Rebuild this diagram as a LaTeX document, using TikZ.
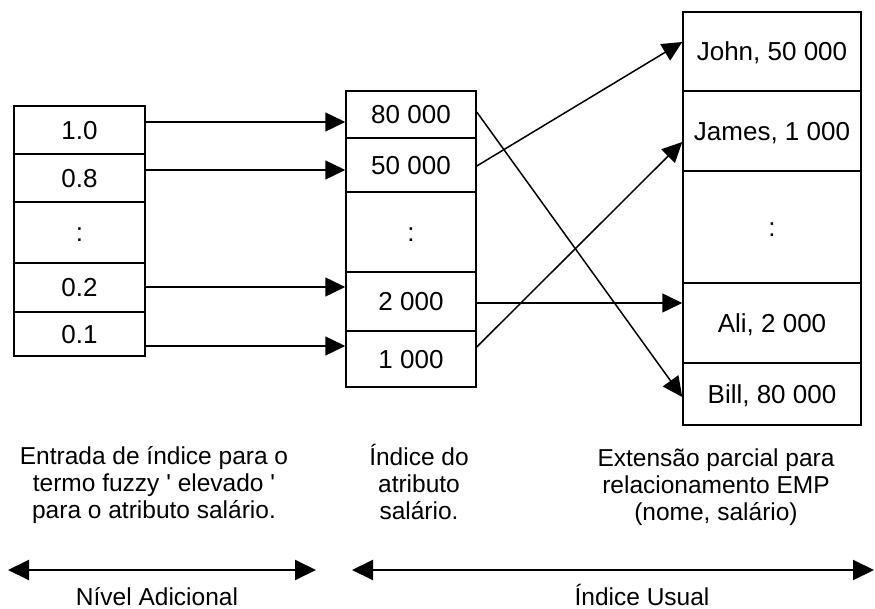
\documentclass[tikz,border=0pt]{standalone}
\usepackage{fontspec}
\setmainfont{Liberation Sans}
\usetikzlibrary{arrows.meta}

\begin{document}
\begin{tikzpicture}[x=1pt,y=-1pt,
  cell/.style={draw,line width=1.5pt,inner sep=0pt,text height=18.6pt,text depth=0pt,
    font=\fontsize{26}{30}\selectfont},
  legend/.style={align=center,inner sep=0pt,font=\fontsize{24.5}{27}\selectfont},
  link/.style={line width=1.5pt,-{Triangle[length=20pt,width=19pt]}},
  span/.style={line width=2pt,{Triangle[length=21pt,width=20pt]}-{Triangle[length=21pt,width=20pt]}}]
 \useasboundingbox (0,0) rectangle (875,609);
%
 \node[cell,minimum width=131pt,minimum height=48pt] (l1) at (79.5,130) {1.0};
 \node[cell,minimum width=131pt,minimum height=48pt] (l2) at (79.5,178) {0.8};
 \node[cell,minimum width=131pt,minimum height=61pt] (l3) at (79.5,232.5) {:};
 \node[cell,minimum width=131pt,minimum height=49pt] (l4) at (79.5,287.5) {0.2};
 \node[cell,minimum width=131pt,minimum height=44pt] (l5) at (79.5,334) {0.1};
%
 \node[cell,minimum width=130pt,minimum height=47pt] (m1) at (411,114.5) {80 000};
 \node[cell,minimum width=130pt,minimum height=54pt] (m2) at (411,165) {50 000};
 \node[cell,minimum width=130pt,minimum height=80pt] (m3) at (411,232) {:};
 \node[cell,minimum width=130pt,minimum height=59pt] (m4) at (411,301.5) {2 000};
 \node[cell,minimum width=130pt,minimum height=56pt] (m5) at (411,359) {1 000};
%
 \node[cell,minimum width=178pt,minimum height=79pt] (r1) at (772,51.5) {John, 50 000};
 \node[cell,minimum width=178pt,minimum height=80pt] (r2) at (772,131) {James, 1 000};
 \node[cell,minimum width=178pt,minimum height=112pt] (r3) at (772,227) {:};
 \node[cell,minimum width=178pt,minimum height=80pt] (r4) at (772,323) {Ali, 2 000};
 \node[cell,minimum width=178pt,minimum height=62pt] (r5) at (772,394) {Bill, 80 000};
%
 \draw[link] (l1.east |- 0,122) -- (m1.west |- 0,122);
 \draw[link] (l2.east |- 0,170) -- (m2.west |- 0,170);
 \draw[link] (l4.east |- 0,287) -- (m4.west |- 0,287);
 \draw[link] (l5.east |- 0,346) -- (m5.west |- 0,346);
%
 \draw[link] (m1.east |- 0,112) -- (r5.west |- 0,397);
 \draw[link] (m2.east |- 0,166) -- (r1.west |- 0,42);
 \draw[link] (m4.east |- 0,303) -- (r4.west |- 0,303);
 \draw[link] (m5.east |- 0,347) -- (r2.west |- 0,142);
%
 \node[legend] (entrada) at (154,485) {Entrada de índice para o\\termo fuzzy \textquotesingle\ elevado \textquotesingle\\para o atributo salário.};
 \node[legend] (indice) at (419,482) {Índice do\\atributo\\salário.};
 \node[legend] (extensao) at (716,487) {Extensão parcial para\\relacionamento EMP\\(nome, salário)};
%
 \coordinate (nivA) at (8,570);
 \coordinate (nivB) at (316,570);
 \coordinate (usuA) at (352,570);
 \coordinate (usuB) at (874,570);
 \draw[span] (nivA) -- (nivB);
 \draw[span] (usuA) -- (usuB);
 \node[legend,anchor=base] (nivel) at (157,605) {Nível Adicional};
 \node[legend,anchor=base] (usual) at (642,605) {Índice Usual};
\end{tikzpicture}
\end{document}
